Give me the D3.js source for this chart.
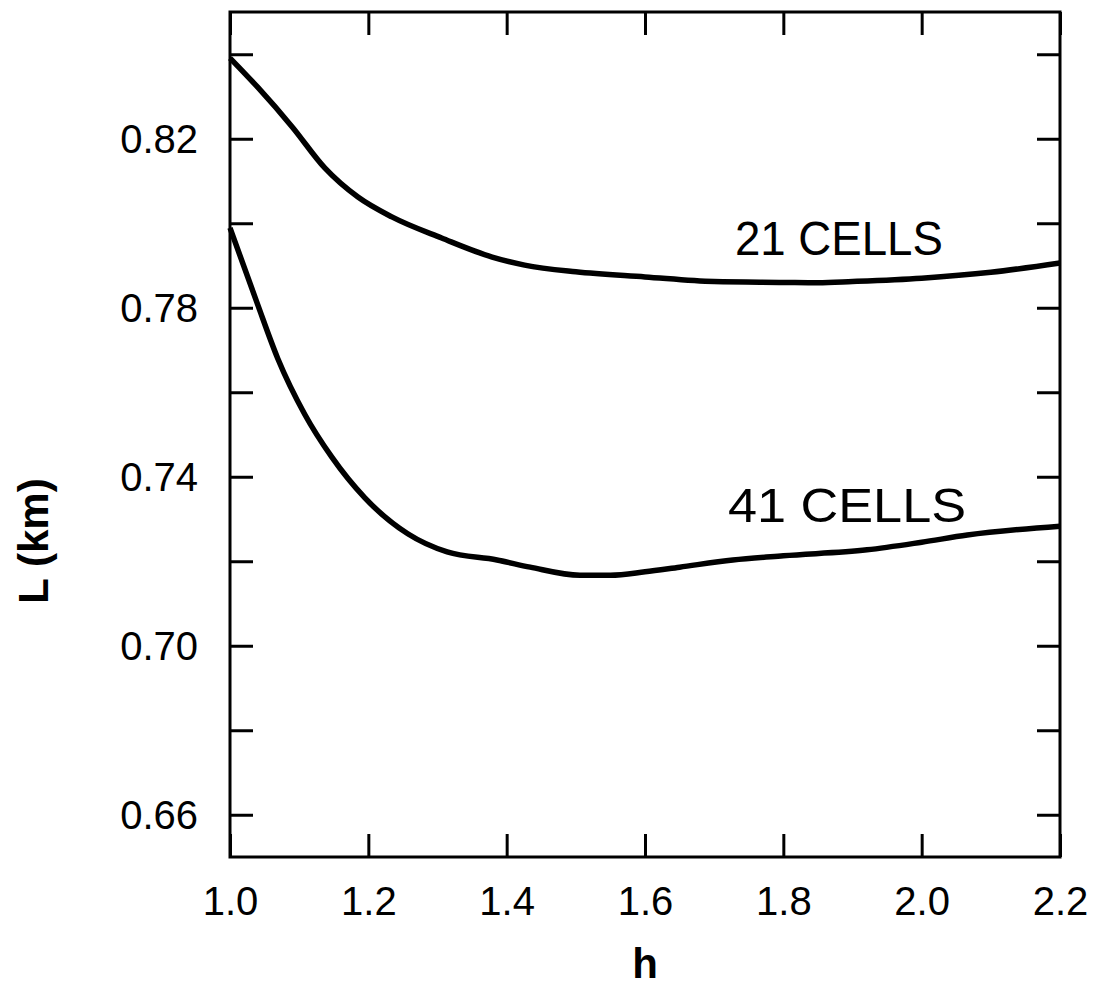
<!DOCTYPE html>
<html lang="en">
  <head>
    <meta charset="UTF-8" />
    <title>L vs h</title>
    <style>
      body {
        margin: 0;
        background: #fff;
      }
      svg {
        display: block;
        font-family: "Liberation Sans", "DejaVu Sans", sans-serif;
      }
      .frame {
        fill: none;
        stroke: #000;
        stroke-width: 3;
      }
      .tick line {
        stroke: #000;
        stroke-width: 3;
      }
      .tick-label {
        font-size: 40px;
        fill: #000;
      }
      .curve {
        fill: none;
        stroke: #000;
        stroke-width: 5.5;
        stroke-linejoin: round;
      }
      .curve-label {
        font-size: 48px;
        fill: #000;
      }
      .axis-title {
        font-size: 42px;
        font-weight: bold;
        fill: #000;
      }
    </style>
    <script src="https://cdn.jsdelivr.net/npm/d3@7"></script>
  </head>
  <body>
    <div class="container"></div>
    <script>
      // tick values
      const xTicks = [1.0, 1.2, 1.4, 1.6, 1.8, 2.0, 2.2];
      const yMajor = [0.66, 0.7, 0.74, 0.78, 0.82];
      const yMinor = [0.68, 0.72, 0.76, 0.8, 0.84];

      // 21 cells curve
      const h21 = [1.0, 1.04, 1.09, 1.137, 1.185, 1.234, 1.306, 1.379, 1.426, 1.5, 1.6, 1.7, 1.8, 1.85, 1.9, 2.0, 2.1, 2.2];
      const L21 = [0.8391, 0.8322, 0.8228, 0.8131, 0.8062, 0.8015, 0.7965, 0.792, 0.7901, 0.7885, 0.7873, 0.7862, 0.786, 0.7859, 0.7862, 0.787, 0.7884, 0.7906];

      // 41 cells curve
      const h41 = [1.0, 1.039, 1.069, 1.108, 1.147, 1.195, 1.257, 1.314, 1.386, 1.434, 1.506, 1.55, 1.6, 1.65, 1.727, 1.8, 1.921, 2.0, 2.066, 2.2];
      const L41 = [0.7989, 0.7812, 0.768, 0.7548, 0.7447, 0.735, 0.7265, 0.7222, 0.7203, 0.7186, 0.7167, 0.7167, 0.7175, 0.7186, 0.7203, 0.7213, 0.7227, 0.7245, 0.7262, 0.7283];

      const width = 1109,
        height = 989;
      const margin = { left: 230, right: 49, top: 12, bottom: 132 };

      const x = d3
        .scaleLinear()
        .domain([1.0, 2.2])
        .range([margin.left, width - margin.right]);
      const y = d3
        .scaleLinear()
        .domain([0.65, 0.85])
        .range([height - margin.bottom, margin.top]);

      const svg = d3
        .select(".container")
        .append("svg")
        .attr("width", width)
        .attr("height", height);

      const tickLen = 23;
      const yTicks = yMajor.concat(yMinor);

      // bottom ticks + labels
      const gBottom = svg
        .append("g")
        .attr("transform", "translate(0," + y.range()[0] + ")")
        .call(d3.axisBottom(x).tickValues(xTicks).tickSize(-tickLen).tickFormat(d3.format(".1f")));
      gBottom.select(".domain").remove();
      gBottom
        .selectAll("text")
        .attr("class", "tick-label")
        .attr("y", 58)
        .attr("dy", 0);
      gBottom.attr("font-size", null).attr("font-family", null);

      // top ticks
      const gTop = svg
        .append("g")
        .attr("transform", "translate(0," + y.range()[1] + ")")
        .call(d3.axisTop(x).tickValues(xTicks).tickSize(-tickLen).tickFormat(""));
      gTop.select(".domain").remove();

      // left ticks
      const gLeft = svg
        .append("g")
        .attr("transform", "translate(" + x.range()[0] + ",0)")
        .call(d3.axisLeft(y).tickValues(yTicks).tickSize(-tickLen).tickFormat(""));
      gLeft.select(".domain").remove();

      // right ticks
      const gRight = svg
        .append("g")
        .attr("transform", "translate(" + x.range()[1] + ",0)")
        .call(d3.axisRight(y).tickValues(yTicks).tickSize(-tickLen).tickFormat(""));
      gRight.select(".domain").remove();

      // y tick labels (major only)
      svg
        .selectAll(".ylab")
        .data(yMajor)
        .enter()
        .append("text")
        .attr("class", "tick-label")
        .attr("x", x.range()[0] - 32)
        .attr("y", (d) => y(d) + 14)
        .attr("text-anchor", "end")
        .text((d) => d3.format(".2f")(d));

      // frame
      svg
        .append("rect")
        .attr("class", "frame")
        .attr("x", x.range()[0])
        .attr("y", y.range()[1])
        .attr("width", x.range()[1] - x.range()[0])
        .attr("height", y.range()[0] - y.range()[1]);

      const line = d3
        .line()
        .x((d) => x(d[0]))
        .y((d) => y(d[1]))
        .curve(d3.curveMonotoneX);

      svg
        .append("path")
        .attr("class", "curve")
        .attr("d", line(d3.zip(h21, L21)));
      svg
        .append("path")
        .attr("class", "curve")
        .attr("d", line(d3.zip(h41, L41)));

      // curve labels
      svg
        .append("text")
        .attr("class", "curve-label")
        .attr("x", x(1.73))
        .attr("y", y(0.7926))
        .attr("textLength", 208)
        .attr("lengthAdjust", "spacingAndGlyphs")
        .text("21 CELLS");
      svg
        .append("text")
        .attr("class", "curve-label")
        .attr("x", x(1.72))
        .attr("y", y(0.7292))
        .attr("textLength", 238)
        .attr("lengthAdjust", "spacingAndGlyphs")
        .text("41 CELLS");

      // axis titles
      svg
        .append("text")
        .attr("class", "axis-title")
        .attr("x", x(1.6))
        .attr("y", 978)
        .attr("text-anchor", "middle")
        .text("h");
      svg
        .append("text")
        .attr("class", "axis-title")
        .attr("transform", "translate(48,541) rotate(-90)")
        .attr("text-anchor", "middle")
        .text("L (km)");
    </script>
  </body>
</html>
